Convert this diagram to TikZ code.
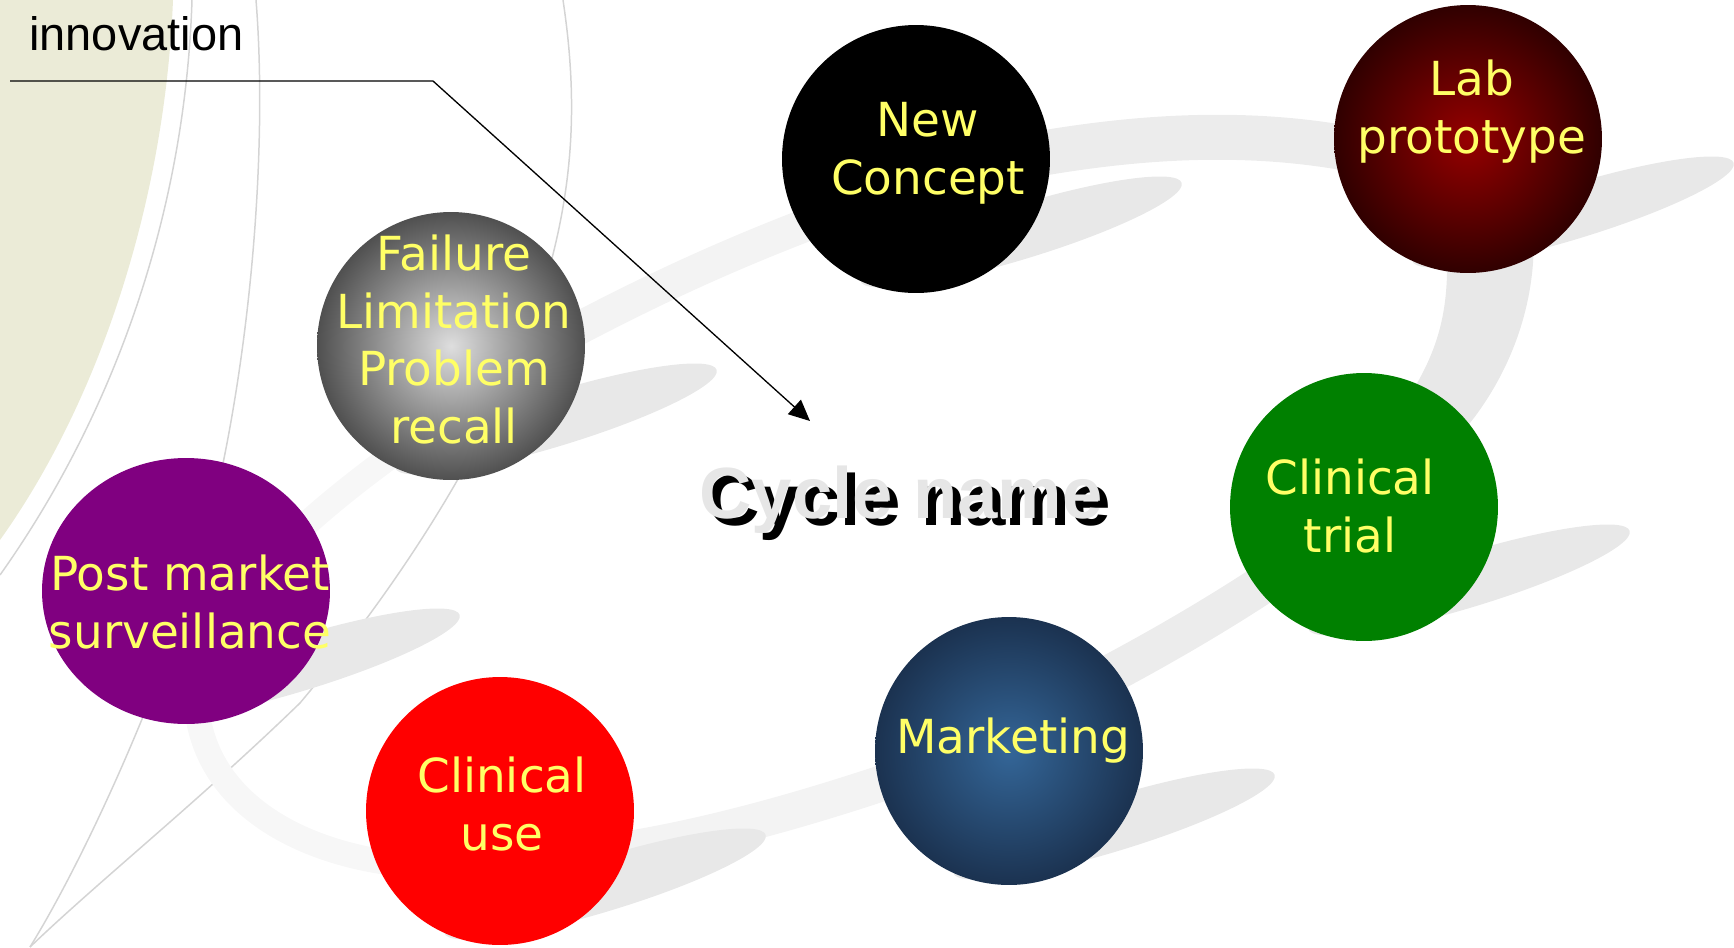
\documentclass[tikz,border=0pt]{standalone}
\usepackage{fontspec}
\setmainfont{DejaVu Sans}
\newfontfamily\arial{Liberation Sans}
\usetikzlibrary{arrows.meta,shapes.geometric}
\definecolor{beige}{RGB}{235,235,215}
\definecolor{thread}{RGB}{212,212,212}
\definecolor{swooshA}{RGB}{247,247,247}
\definecolor{swooshB}{RGB}{243,243,243}
\definecolor{swooshC}{RGB}{236,236,236}
\definecolor{swooshD}{RGB}{232,232,232}
\definecolor{ground}{RGB}{232,232,232}
\definecolor{lemon}{RGB}{255,255,102}
\definecolor{emboss}{RGB}{230,230,230}
\definecolor{labcore}{RGB}{150,0,0}
\definecolor{labrim}{RGB}{48,0,0}
\definecolor{failcore}{RGB}{222,222,222}
\definecolor{failrim}{RGB}{80,80,80}
\definecolor{mktcore}{RGB}{52,102,152}
\definecolor{mktrim}{RGB}{27,50,80}
\definecolor{trialgreen}{RGB}{0,128,0}
\definecolor{postpurple}{RGB}{128,0,128}
\definecolor{usered}{RGB}{255,0,0}

\begin{document}
\begin{tikzpicture}[x=0.02cm, y=0.02cm]
\tikzstyle{every node}+=[inner sep=0pt]
\tikzstyle{ball}=[circle, minimum size=5.36cm]
\tikzstyle{caption}=[text=lemon, align=center, anchor=base, font=\fontsize{26.7}{32.7}\selectfont]
\tikzstyle{track}=[line cap=butt]
\useasboundingbox (0,0) rectangle (1734,-947);
\clip (0,0) rectangle (1734,-947);
\fill [beige] (0,0) -- (173,0) .. controls (165,-200) and (100,-400) .. (0,-540) -- cycle;
\draw [thread, line width=0.85pt] (192,0) .. controls (185,-220) and (110,-420) .. (0,-575);
\draw [thread, line width=0.85pt] (256,0) .. controls (268,-150) and (250,-350) .. (215,-500) .. controls (180,-650) and (90,-850) .. (30,-947);
\draw [thread, line width=0.85pt] (563,0) .. controls (578,-100) and (575,-190) .. (540,-300) .. controls (500,-420) and (420,-560) .. (300,-703) .. controls (200,-800) and (100,-880) .. (30,-947);
\draw [track, swooshA, line width=0.5cm] (420,-866) .. controls (300,-858) and (195,-800) .. (196,-690);
\draw [track, swooshA, line width=0.5cm] (250,-580) .. controls (300,-525) and (350,-485) .. (420,-435);
\draw [track, swooshB, line width=0.66cm] (520,-360) .. controls (620,-305) and (720,-255) .. (860,-205);
\draw [track, swooshC, line width=0.9cm] (980,-165) .. controls (1100,-140) and (1250,-120) .. (1400,-160);
\fill [swooshD] (1445,-230) -- (1447,-273) .. controls (1446,-320) and (1435,-355) .. (1410,-395) -- (1390,-420) -- (1460,-450) -- (1470,-423) .. controls (1500,-385) and (1528,-330) .. (1533,-263) -- (1535,-230) -- cycle;
\draw [track, swooshC, line width=0.78cm] (1060,-700) .. controls (1130,-665) and (1230,-610) .. (1320,-545);
\draw [track, swooshB, line width=0.72cm] (950,-760) .. controls (850,-795) and (700,-845) .. (560,-858);
\foreach \x/\y in {916/159,1468/139,451/346,1364/507,194/591,1009/751,500/811}
  \fill [ground, rotate around={17:(\x+105,-\y-73)}] (\x+105,-\y-73) ellipse [x radius=168, y radius=27];
\node [ball, fill=black] (nc) at (916,-159) {};
\node [ball, inner color=labcore, outer color=labrim] (lab) at (1468,-139) {};
\node [ball, inner color=failcore, outer color=failrim] (fail) at (451,-346) {};
\node [ball, fill=trialgreen] (trial) at (1364,-507) {};
\node [ellipse, minimum width=5.76cm, minimum height=5.32cm, fill=postpurple] (post) at (186,-591) {};
\node [ball, inner color=mktcore, outer color=mktrim] (mkt) at (1009,-751) {};
\node [ball, fill=usered] (use) at (500,-811) {};
\node [caption] (nc-txt) at (928,-194) {New\\Concept};
\node [caption] (lab-txt) at (1472,-153) {Lab\\prototype};
\node [caption] (fail-txt) at (454,-443) {Failure\\Limitation\\Problem\\recall};
\node [caption] (trial-txt) at (1350,-552) {Clinical\\trial};
\node [caption] (mkt-txt) at (1013,-753) {Marketing};
\node [caption] (use-txt) at (502,-850) {Clinical\\use};
\node [caption] (post-txt) at (190,-648) {Post market\\surveillance};
\node [anchor=base west, font=\arial\bfseries\fontsize{41.3}{50}\selectfont] (cycle-back) at (707,-525) {Cycle name};
\node [anchor=base west, text=emboss, font=\arial\bfseries\fontsize{41.3}{50}\selectfont] (cycle) at (699,-518) {Cycle name};
\node [anchor=base west, font=\arial\fontsize{26.7}{32}\selectfont] (innovation) at (29,-50) {innovation};
\coordinate (lead) at (10,-81);
\coordinate (knee) at (433,-81);
\coordinate (tip) at (810,-421);
\draw [black, line width=0.75pt, -{Triangle[length=12pt,width=11pt]}] (lead) -- (knee) -- (tip);
\end{tikzpicture}
\end{document}
